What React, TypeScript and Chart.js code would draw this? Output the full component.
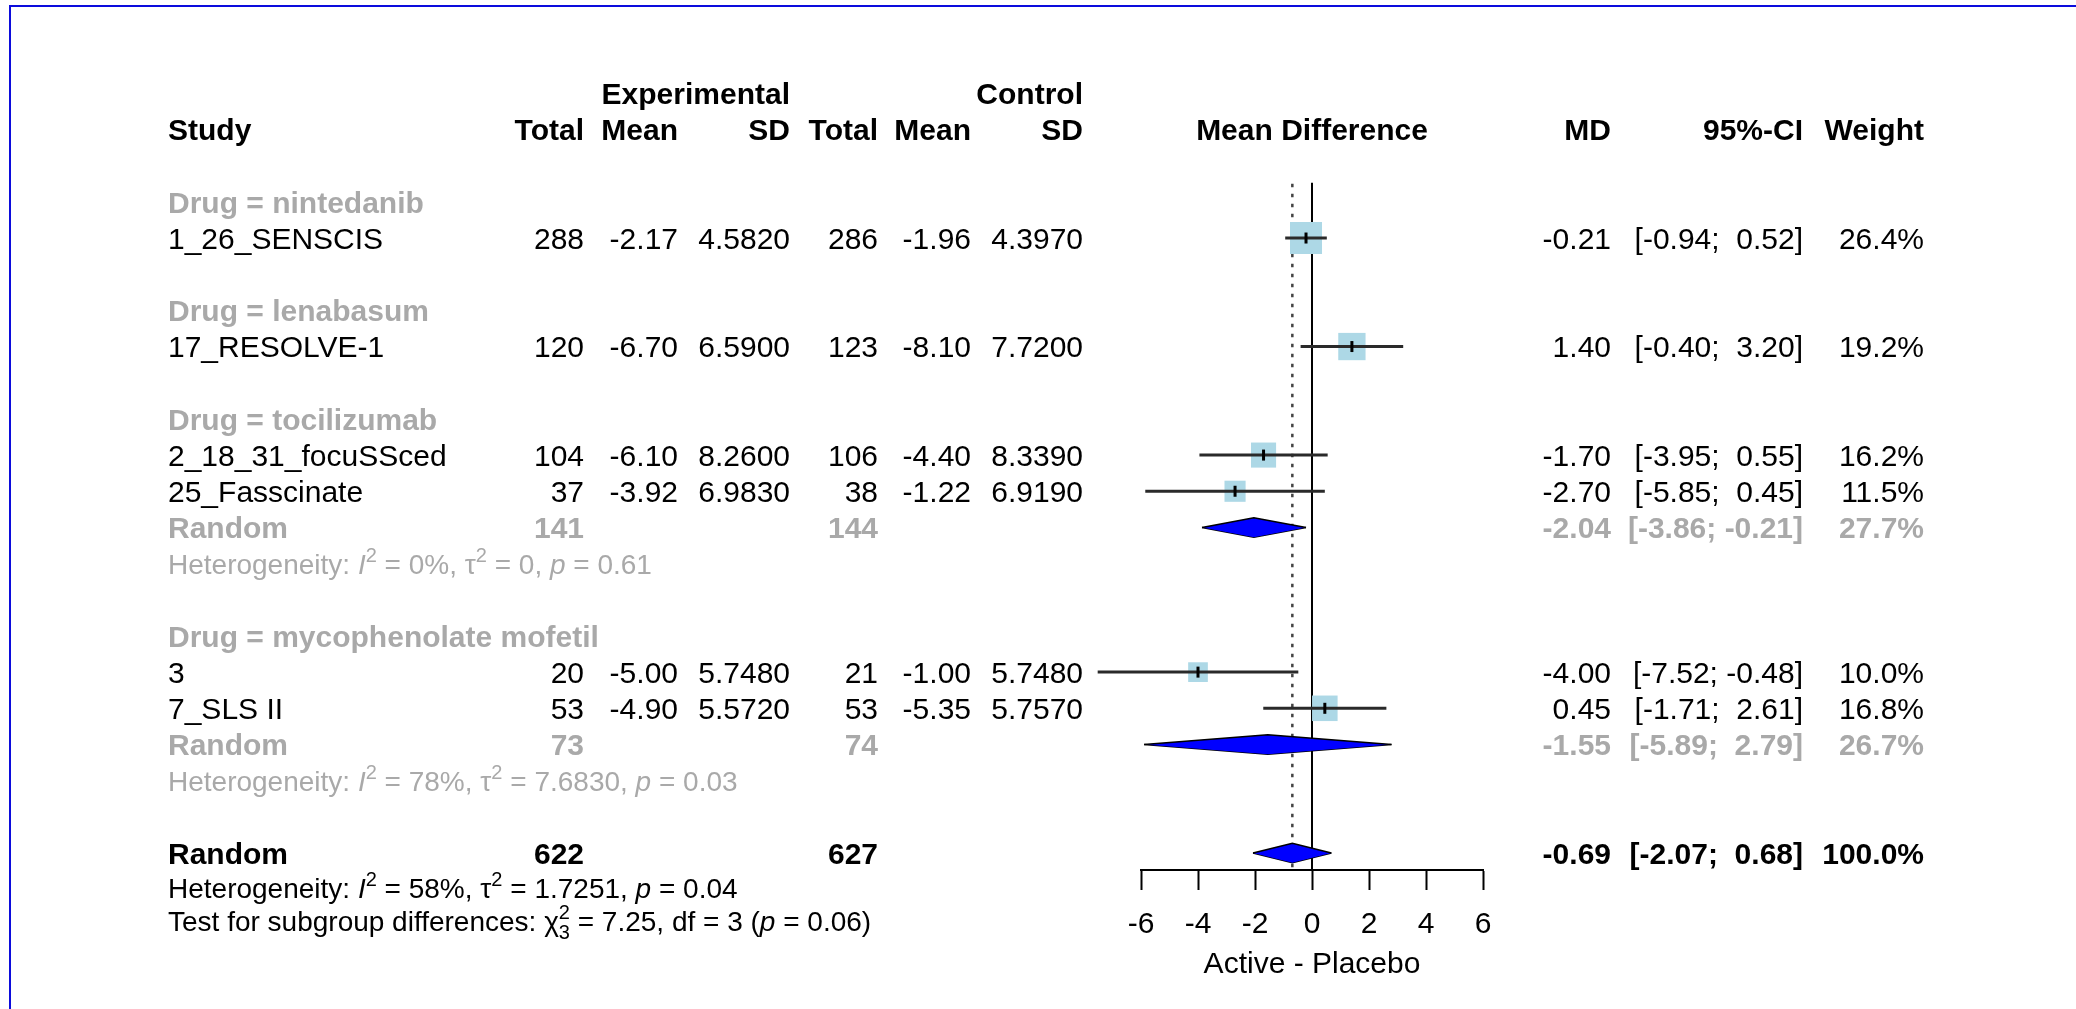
import React, { useEffect, useRef } from 'react';
import { Chart, registerables } from 'chart.js';

Chart.register(...registerables);

// ---------------- data ----------------
const groupNames = ['nintedanib', 'lenabasum', 'tocilizumab', 'mycophenolate mofetil'];
const groupRows = [2, 5, 8, 14];

const studyNames = ['1_26_SENSCIS', '17_RESOLVE-1', '2_18_31_focuSSced', '25_Fasscinate', '3', '7_SLS II'];
const studyRows = [3, 6, 9, 10, 15, 16];
const expTotal = [288, 120, 104, 37, 20, 53];
const expMean = [-2.17, -6.7, -6.1, -3.92, -5.0, -4.9];
const expSD = [4.582, 6.59, 8.26, 6.983, 5.748, 5.572];
const ctlTotal = [286, 123, 106, 38, 21, 53];
const ctlMean = [-1.96, -8.1, -4.4, -1.22, -1.0, -5.35];
const ctlSD = [4.397, 7.72, 8.339, 6.919, 5.748, 5.757];
const studyMD = [-0.21, 1.4, -1.7, -2.7, -4.0, 0.45];
const studyLow = [-0.94, -0.4, -3.95, -5.85, -7.52, -1.71];
const studyHigh = [0.52, 3.2, 0.55, 0.45, -0.48, 2.61];
const studyWeight = [26.4, 19.2, 16.2, 11.5, 10.0, 16.8];

const subRows = [11, 17];
const subHetRows = [12, 18];
const subExpTotal = [141, 73];
const subCtlTotal = [144, 74];
const subMD = [-2.04, -1.55];
const subLow = [-3.86, -5.89];
const subHigh = [-0.21, 2.79];
const subWeight = [27.7, 26.7];
const subI2 = ['0%', '78%'];
const subTau2 = ['0', '7.6830'];
const subP = ['0.61', '0.03'];

const overallRow = 20;
const overallExpTotal = 622;
const overallCtlTotal = 627;
const overallMD = -0.69;
const overallLow = -2.07;
const overallHigh = 0.68;
const overallWeight = 100.0;
const overallI2 = '58%';
const overallTau2 = '1.7251';
const overallP = '0.04';
const testChi2 = '7.25';
const testDf = '3';
const testP = '0.06';

const xTicks = [-6, -4, -2, 0, 2, 4, 6];
const axisTitle = 'Active - Placebo';

// ---------------- layout / style ----------------
const W = 2076;
const H = 1009;
const FAMILY = '"Liberation Sans", Arial, Helvetica, sans-serif';
const FS = 30;
const FS_HET = 28;
const GRAY = '#A9A9A9';
const SQUARE_COLOR = '#ADD8E6';
const DIAMOND_COLOR = '#0000FF';
const BORDER_COLOR = '#0c0cdc';
const SQUARE_PX = 6.23;
const DIAMOND_HALF = 0.27;
const AXIS_ROW = 20.47;
const LINE_TOP_ROW = 1.47;
const HET_ROW_OVERALL = 20.97;
const TEST_ROW = 21.88;
const X_AXIS_HEIGHT = 113;

const COL = {
  study: 168,
  expTotal: 584,
  expMean: 678,
  expSD: 790,
  ctlTotal: 878,
  ctlMean: 971,
  ctlSD: 1083,
  md: 1611,
  ci: 1803,
  weight: 1924,
};

const f2 = (v: number) => v.toFixed(2);
const f4 = (v: number) => v.toFixed(4);
const fci = (lo: number, hi: number) => `[${f2(lo)}; ${hi < 0 ? '' : ' '}${f2(hi)}]`;
const fw = (w: number) => `${w.toFixed(1)}%`;

type Seg = { t: string; it?: boolean; sup?: boolean; sub?: boolean; stack?: boolean };

function drawRich(ctx: CanvasRenderingContext2D, segs: Seg[], x: number, y: number, size: number, color: string) {
  let cx = x;
  let lastScriptX = x;
  let lastScriptW = 0;
  ctx.fillStyle = color;
  ctx.textAlign = 'left';
  ctx.textBaseline = 'alphabetic';
  for (const s of segs) {
    const script = s.sup || s.sub;
    const fs = script ? Math.round(size * 0.7) : size;
    ctx.font = `${s.it ? 'italic ' : ''}${fs}px ${FAMILY}`;
    const w = ctx.measureText(s.t).width;
    const dy = s.sup ? -size * 0.42 : s.sub ? size * 0.3 : 0;
    if (s.stack) {
      ctx.fillText(s.t, lastScriptX, y + dy);
      const extra = Math.max(0, w - lastScriptW);
      cx += extra;
      lastScriptW = Math.max(w, lastScriptW);
    } else {
      ctx.fillText(s.t, cx, y + dy);
      if (script) {
        lastScriptX = cx;
        lastScriptW = w;
      }
      cx += w;
    }
  }
}

function hetSegs(i2: string, tau2: string, p: string): Seg[] {
  return [
    { t: 'Heterogeneity: ' },
    { t: 'I', it: true },
    { t: '2', sup: true },
    { t: ` = ${i2}, ` },
    { t: 'τ' },
    { t: '2', sup: true },
    { t: ` = ${tau2}, ` },
    { t: 'p', it: true },
    { t: ` = ${p}` },
  ];
}

const textPlugin = {
  id: 'forestText',
  afterDraw(chart: any) {
    const ctx: CanvasRenderingContext2D = chart.ctx;
    const ys = chart.scales.y;
    const area = chart.chartArea;
    const Y = (r: number) => ys.getPixelForValue(r);
    ctx.save();

    // frame
    ctx.fillStyle = BORDER_COLOR;
    ctx.fillRect(9, 5, chart.width - 9, 2);
    ctx.fillRect(9, 5, 2, chart.height - 5);

    const txt = (s: string, x: number, r: number, align: CanvasTextAlign, bold = false, color = '#000', size = FS) => {
      ctx.font = `${bold ? 'bold ' : ''}${size}px ${FAMILY}`;
      ctx.fillStyle = color;
      ctx.textAlign = align;
      ctx.textBaseline = 'alphabetic';
      ctx.fillText(s, x, Y(r) + size * 0.36);
    };

    // headers
    txt('Experimental', COL.expSD, -1, 'right', true);
    txt('Control', COL.ctlSD, -1, 'right', true);
    txt('Study', COL.study, 0, 'left', true);
    txt('Total', COL.expTotal, 0, 'right', true);
    txt('Mean', COL.expMean, 0, 'right', true);
    txt('SD', COL.expSD, 0, 'right', true);
    txt('Total', COL.ctlTotal, 0, 'right', true);
    txt('Mean', COL.ctlMean, 0, 'right', true);
    txt('SD', COL.ctlSD, 0, 'right', true);
    txt('Mean Difference', (area.left + area.right) / 2, 0, 'center', true);
    txt('MD', COL.md, 0, 'right', true);
    txt('95%-CI', COL.ci, 0, 'right', true);
    txt('Weight', COL.weight, 0, 'right', true);

    // subgroup labels
    groupNames.forEach((g, i) => txt(`Drug = ${g}`, COL.study, groupRows[i], 'left', true, GRAY));

    // studies
    studyNames.forEach((s, i) => {
      const r = studyRows[i];
      txt(s, COL.study, r, 'left');
      txt(String(expTotal[i]), COL.expTotal, r, 'right');
      txt(f2(expMean[i]), COL.expMean, r, 'right');
      txt(f4(expSD[i]), COL.expSD, r, 'right');
      txt(String(ctlTotal[i]), COL.ctlTotal, r, 'right');
      txt(f2(ctlMean[i]), COL.ctlMean, r, 'right');
      txt(f4(ctlSD[i]), COL.ctlSD, r, 'right');
      txt(f2(studyMD[i]), COL.md, r, 'right');
      txt(fci(studyLow[i], studyHigh[i]), COL.ci, r, 'right');
      txt(fw(studyWeight[i]), COL.weight, r, 'right');
    });

    // subgroup summaries
    subRows.forEach((r, i) => {
      txt('Random', COL.study, r, 'left', true, GRAY);
      txt(String(subExpTotal[i]), COL.expTotal, r, 'right', true, GRAY);
      txt(String(subCtlTotal[i]), COL.ctlTotal, r, 'right', true, GRAY);
      txt(f2(subMD[i]), COL.md, r, 'right', true, GRAY);
      txt(fci(subLow[i], subHigh[i]), COL.ci, r, 'right', true, GRAY);
      txt(fw(subWeight[i]), COL.weight, r, 'right', true, GRAY);
      drawRich(ctx, hetSegs(subI2[i], subTau2[i], subP[i]), COL.study, Y(subHetRows[i]) + FS_HET * 0.36, FS_HET, GRAY);
    });

    // overall
    txt('Random', COL.study, overallRow, 'left', true);
    txt(String(overallExpTotal), COL.expTotal, overallRow, 'right', true);
    txt(String(overallCtlTotal), COL.ctlTotal, overallRow, 'right', true);
    txt(f2(overallMD), COL.md, overallRow, 'right', true);
    txt(fci(overallLow, overallHigh), COL.ci, overallRow, 'right', true);
    txt(fw(overallWeight), COL.weight, overallRow, 'right', true);
    drawRich(ctx, hetSegs(overallI2, overallTau2, overallP), COL.study, Y(HET_ROW_OVERALL) + FS_HET * 0.36, FS_HET, '#000');
    drawRich(
      ctx,
      [
        { t: 'Test for subgroup differences: ' },
        { t: 'χ' },
        { t: '2', sup: true },
        { t: testDf, sub: true, stack: true },
        { t: ` = ${testChi2}, df = ${testDf} (` },
        { t: 'p', it: true },
        { t: ` = ${testP})` },
      ],
      COL.study,
      Y(TEST_ROW) + FS_HET * 0.36,
      FS_HET,
      '#000'
    );

    ctx.restore();
  },
};

function buildDatasets() {
  const ds: any[] = [];
  // reference lines
  ds.push({
    type: 'line',
    data: [{ x: 0, y: LINE_TOP_ROW }, { x: 0, y: AXIS_ROW }],
    borderColor: '#000',
    borderWidth: 2,
    pointRadius: 0,
    order: 10,
    clip: false,
  });
  ds.push({
    type: 'line',
    data: [{ x: overallMD, y: LINE_TOP_ROW + 0.03 }, { x: overallMD, y: AXIS_ROW }],
    borderColor: '#444',
    borderWidth: 2.5,
    borderDash: [3.5, 6.5],
    pointRadius: 0,
    order: 10,
    clip: false,
  });
  // squares
  ds.push({
    type: 'scatter',
    data: studyRows.map((r, i) => ({ x: studyMD[i], y: r })),
    pointStyle: 'rect',
    pointRadius: studyWeight.map((w) => (SQUARE_PX * Math.sqrt(w)) / Math.SQRT2),
    pointHoverRadius: studyWeight.map((w) => (SQUARE_PX * Math.sqrt(w)) / Math.SQRT2),
    pointBackgroundColor: SQUARE_COLOR,
    pointBorderWidth: 0,
    pointBorderColor: 'rgba(0,0,0,0)',
    showLine: false,
    order: 5,
    clip: false,
  });
  // CI lines
  studyRows.forEach((r, i) => {
    ds.push({
      type: 'line',
      data: [{ x: studyLow[i], y: r }, { x: studyHigh[i], y: r }],
      borderColor: '#2a2a2a',
      borderWidth: 3,
      pointRadius: 0,
      order: 3,
      clip: false,
    });
  });
  // estimate ticks
  ds.push({
    type: 'scatter',
    data: studyRows.map((r, i) => ({ x: studyMD[i], y: r })),
    pointStyle: 'line',
    pointRotation: 90,
    pointRadius: 5.5,
    pointBorderWidth: 3,
    pointBorderColor: '#000',
    showLine: false,
    order: 1,
    clip: false,
  });
  // diamonds
  const sums = [
    ...subRows.map((r, i) => ({ r, m: subMD[i], lo: subLow[i], hi: subHigh[i] })),
    { r: overallRow, m: overallMD, lo: overallLow, hi: overallHigh },
  ];
  sums.forEach((s) => {
    ds.push({
      type: 'line',
      data: [{ x: s.lo, y: s.r }, { x: s.m, y: s.r - DIAMOND_HALF }, { x: s.hi, y: s.r }],
      borderColor: '#000',
      borderWidth: 1.5,
      backgroundColor: DIAMOND_COLOR,
      fill: '+1',
      pointRadius: 0,
      order: 2,
      clip: false,
    });
    ds.push({
      type: 'line',
      data: [{ x: s.lo, y: s.r }, { x: s.m, y: s.r + DIAMOND_HALF }, { x: s.hi, y: s.r }],
      borderColor: '#000',
      borderWidth: 1.5,
      backgroundColor: DIAMOND_COLOR,
      fill: false,
      pointRadius: 0,
      order: 2,
      clip: false,
    });
  });
  return ds;
}

export default function App() {
  const ref = useRef<HTMLCanvasElement>(null);
  useEffect(() => {
    if (!ref.current) return;
    Chart.defaults.font.family = FAMILY;
    const chart = new Chart(ref.current, {
      type: 'scatter',
      data: { datasets: buildDatasets() },
      options: {
        animation: false,
        responsive: false,
        devicePixelRatio: 1,
        events: [],
        layout: { padding: { left: 1141, right: W - 1483, top: 129.5, bottom: H - 870 - X_AXIS_HEIGHT } },
        plugins: { legend: { display: false }, tooltip: { enabled: false } },
        scales: {
          x: {
            type: 'linear',
            min: xTicks[0],
            max: xTicks[xTicks.length - 1],
            afterBuildTicks: (s: any) => {
              s.ticks = xTicks.map((v) => ({ value: v }));
            },
            afterFit: (s: any) => {
              s.height = X_AXIS_HEIGHT;
            },
            ticks: {
              font: { size: FS, family: FAMILY },
              color: '#000',
              padding: 17,
              maxRotation: 0,
              autoSkip: false,
              callback: (v: any) => String(v),
            },
            grid: {
              display: true,
              drawOnChartArea: false,
              drawTicks: true,
              tickLength: 20,
              tickWidth: 2,
              tickColor: '#000',
            },
            border: { display: true, color: '#000', width: 2 },
            title: {
              display: true,
              text: axisTitle,
              font: { size: FS, family: FAMILY },
              color: '#000',
              padding: 0,
            },
          },
          y: {
            type: 'linear',
            display: false,
            reverse: true,
            min: 0,
            max: AXIS_ROW,
          },
        },
      },
      plugins: [textPlugin],
    } as any);
    return () => chart.destroy();
  }, []);
  return (
    <div style={{ position: 'fixed', left: 0, top: 0, width: W, height: H, background: '#fff' }}>
      <canvas ref={ref} width={W} height={H} style={{ display: 'block', width: W, height: H }} />
    </div>
  );
}
